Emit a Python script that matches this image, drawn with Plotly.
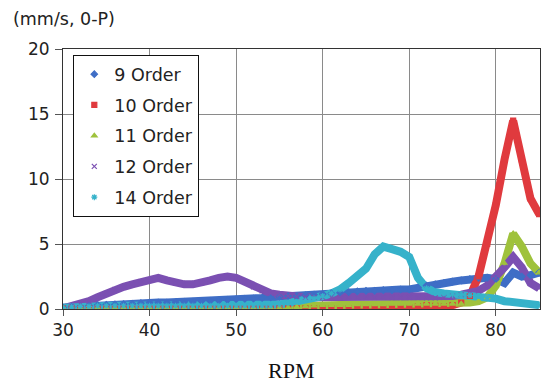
import plotly.graph_objects as go

rpm = list(range(30, 86))

order9 = [0.10, 0.15, 0.20, 0.25, 0.30, 0.32, 0.35, 0.38, 0.40, 0.45,
          0.50, 0.50, 0.50, 0.52, 0.55, 0.55, 0.60, 0.62, 0.65, 0.70,
          0.75, 0.78, 0.80, 0.85, 0.90, 0.95, 1.00, 1.00, 1.05, 1.10,
          1.15, 1.20, 1.25, 1.30, 1.35, 1.40, 1.40, 1.45, 1.45, 1.50,
          1.50, 1.65, 1.80, 1.90, 2.00, 2.10, 2.20, 2.30, 2.40, 2.40,
          2.30, 2.00, 2.80, 2.50, 2.60, 2.80]
order10 = [0.05, 0.05, 0.05, 0.05, 0.05, 0.05, 0.05, 0.05, 0.05, 0.05,
           0.05, 0.05, 0.05, 0.05, 0.05, 0.05, 0.05, 0.05, 0.05, 0.05,
           0.05, 0.05, 0.05, 0.05, 0.05, 0.05, 0.05, 0.05, 0.05, 0.05,
           0.05, 0.05, 0.05, 0.05, 0.05, 0.05, 0.05, 0.05, 0.05, 0.05,
           0.10, 0.20, 0.30, 0.25, 0.20, 0.30, 0.50, 1.00, 2.50, 5.00,
           8.00, 11.50, 14.50, 11.50, 8.50, 7.30]
order11 = [0.05, 0.05, 0.05, 0.05, 0.05, 0.05, 0.05, 0.05, 0.05, 0.05,
           0.05, 0.05, 0.05, 0.05, 0.05, 0.05, 0.05, 0.05, 0.05, 0.05,
           0.05, 0.05, 0.05, 0.05, 0.05, 0.05, 0.10, 0.15, 0.20, 0.25,
           0.30, 0.30, 0.30, 0.30, 0.35, 0.35, 0.35, 0.35, 0.40, 0.40,
           0.40, 0.40, 0.40, 0.40, 0.40, 0.40, 0.40, 0.50, 0.60, 0.90,
           1.80, 3.50, 5.80, 4.80, 3.50, 2.80]
order12 = [0.05, 0.20, 0.40, 0.60, 0.90, 1.20, 1.50, 1.70, 1.90, 2.10,
           2.20, 2.40, 2.20, 2.00, 1.90, 1.90, 2.00, 2.20, 2.40, 2.50,
           2.40, 2.10, 1.70, 1.40, 1.20, 1.10, 1.00, 0.95, 0.90, 0.90,
           0.90, 0.90, 0.90, 0.90, 0.90, 0.90, 0.90, 0.90, 0.90, 0.90,
           0.90, 0.90, 0.85, 0.85, 0.90, 1.00, 1.10, 1.20, 1.40, 1.80,
           2.40, 3.20, 4.00, 3.20, 2.00, 1.60]
order14 = [0.10, 0.15, 0.20, 0.20, 0.25, 0.25, 0.25, 0.25, 0.25, 0.25,
           0.25, 0.25, 0.25, 0.25, 0.25, 0.25, 0.25, 0.25, 0.25, 0.25,
           0.25, 0.25, 0.25, 0.25, 0.25, 0.35, 0.45, 0.55, 0.65, 0.80,
           1.00, 1.20, 1.50, 2.00, 2.50, 3.10, 4.20, 4.80, 4.60, 4.40,
           4.00, 2.40, 1.60, 1.30, 1.20, 1.15, 1.10, 1.05, 1.00, 0.90,
           0.80, 0.60, 0.50, 0.40, 0.35, 0.30]

names = ["9 Order", "10 Order", "11 Order", "12 Order", "14 Order"]
series = [order9, order10, order11, order12, order14]
colors = ["#3F6EC6", "#E03A3E", "#9FC23C", "#7B50B2", "#36B2CA"]
symbols = ["diamond", "square", "triangle-up", "x-thin-open", "asterisk-open"]

fig = go.Figure()
for name, ys, col, sym in zip(names, series, colors, symbols):
    fig.add_trace(go.Scatter(
        x=rpm, y=ys, mode="lines", name=name, legendgroup=name,
        showlegend=False, line=dict(color=col, width=8),
        hoverinfo="skip"))
for name, ys, col, sym in zip(names, series, colors, symbols):
    fig.add_trace(go.Scatter(
        x=rpm, y=ys, mode="markers", name=name, legendgroup=name,
        marker=dict(color=col, size=5, symbol=sym,
                    line=dict(color=col, width=1.2)),
        opacity=1))

fig.update_layout(
    width=546, height=385,
    margin=dict(l=63, r=6, t=49, b=76),
    paper_bgcolor="white", plot_bgcolor="white",
    font=dict(family="DejaVu Sans", size=17, color="#222"),
    showlegend=True,
    legend=dict(x=0.021, y=0.977, xanchor="left", yanchor="top",
                bordercolor="#111", borderwidth=1.3, bgcolor="white",
                font=dict(family="DejaVu Sans", size=17.5, color="#222"),
                tracegroupgap=5, itemwidth=30, traceorder="grouped",
                entrywidth=108, entrywidthmode="pixels"),
    xaxis=dict(range=[30, 85.1], tickvals=[30, 40, 50, 60, 70, 80],
               showgrid=True, gridcolor="#8a8a8a", gridwidth=1,
               showline=True, linecolor="#333", mirror=True, linewidth=1,
               ticks="outside", ticklen=6, tickcolor="#555",
               zeroline=False, fixedrange=True),
    yaxis=dict(range=[0, 20], tickvals=[0, 5, 10, 15, 20],
               showgrid=True, gridcolor="#8a8a8a", gridwidth=1,
               showline=True, linecolor="#333", mirror=True, linewidth=1,
               ticks="outside", ticklen=7, tickcolor="#555",
               ticklabelstandoff=2,
               zeroline=False, fixedrange=True),
    annotations=[
        dict(text="(mm/s, 0-P)", xref="paper", yref="paper",
             x=-0.11, y=1.07, xanchor="left", yanchor="bottom",
             showarrow=False, font=dict(family="DejaVu Sans", size=17.5, color="#222")),
        dict(text="RPM", xref="paper", yref="paper",
             x=0.478, y=-0.235, xanchor="center", yanchor="middle",
             showarrow=False, font=dict(family="Liberation Serif", size=22, color="#111")),
    ],
)

fig.write_html("out.html")
